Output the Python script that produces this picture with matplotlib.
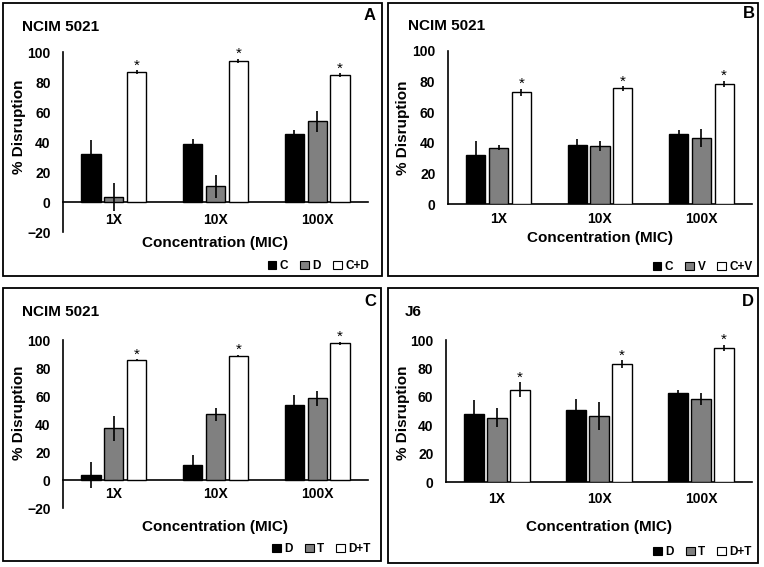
import numpy as np
import matplotlib.pyplot as plt
from matplotlib.patches import Patch, Rectangle

plt.rcParams['font.family'] = ['Liberation Sans', 'DejaVu Sans']
plt.rcParams['font.weight'] = 'bold'

W, H = 764, 567

conc = ['1X', '10X', '100X']

# Panel A: C, D, C+D (NCIM 5021)
a_names = ['C', 'D', 'C+D']
a_vals = [[31.8, 38.4, 45.6], [3.5, 10.4, 53.7], [86.4, 94.0, 84.7]]
a_errs = [[9.3, 3.8, 2.7], [9.2, 7.4, 6.7], [1.3, 1.5, 1.3]]

# Panel B: C, V, C+V (NCIM 5021)
b_names = ['C', 'V', 'C+V']
b_vals = [[31.8, 38.3, 45.7], [36.8, 37.9, 42.9], [73.0, 75.6, 78.4]]
b_errs = [[9.3, 4.0, 2.7], [1.5, 3.5, 5.9], [2.2, 1.5, 2.2]]

# Panel C: D, T, D+T (NCIM 5021)
c_names = ['D', 'T', 'D+T']
c_vals = [[3.5, 10.4, 53.7], [36.9, 46.9, 58.3], [85.7, 88.6, 97.6]]
c_errs = [[9.2, 7.4, 6.7], [8.8, 4.8, 5.3], [0.7, 0.9, 1.2]]

# Panel D: D, T, D+T (J6)
d_names = ['D', 'T', 'D+T']
d_vals = [[47.9, 50.5, 62.4], [45.3, 46.5, 58.5], [65.0, 83.1, 94.4]]
d_errs = [[9.8, 8.0, 2.2], [6.6, 9.8, 4.4], [5.2, 2.8, 2.1]]

colors = ['black', '#808080', 'white']


def px(x0, y0, x1, y1):
    # pixel box (from top-left) -> figure fraction [left, bottom, w, h]
    return [x0 / W, 1 - y1 / H, (x1 - x0) / W, (y1 - y0) / H]


fig = plt.figure(figsize=(W / 100, H / 100), dpi=100)


def panel(box, frame, names, vals, errs, ylim, strain, letter,
          tickpad, xlab_y, ylab_x, ylab_y, strain_xy, letter_xy, leg_xy):
    # outer frame
    fx0, fy0, fx1, fy1 = frame
    fig.patches.append(Rectangle((fx0 / W, 1 - fy1 / H), (fx1 - fx0) / W, (fy1 - fy0) / H,
                                 transform=fig.transFigure, fill=False,
                                 edgecolor='black', linewidth=1.3))
    ax = fig.add_axes(px(*box))
    x = np.arange(len(conc))
    bw = 0.19
    step = 0.225
    for i in range(3):
        xs = x + (i - 1) * step
        ax.bar(xs, vals[i], bw, color=colors[i], edgecolor='black', linewidth=1.0,
               yerr=errs[i], error_kw=dict(ecolor='black', elinewidth=1.2, capsize=0),
               zorder=3)
    # significance marks over the combination bars
    for j in range(3):
        ax.annotate('*', (x[j] + step, vals[2][j] + errs[2][j]), xytext=(0, 0.5),
                    textcoords='offset points', ha='center', va='baseline',
                    fontsize=11, fontweight='normal')
    ax.set_xlim(-0.5, 2.5)
    ax.set_ylim(*ylim)
    ax.set_yticks(np.arange(ylim[0], ylim[1] + 1, 20))
    ax.set_xticks(x)
    ax.set_xticklabels(conc)
    ax.spines['top'].set_visible(False)
    ax.spines['right'].set_visible(False)
    ax.spines['bottom'].set_position(('data', 0))
    ax.spines['left'].set_linewidth(1.2)
    ax.spines['bottom'].set_linewidth(1.2)
    ax.tick_params(axis='y', length=0, pad=9, labelsize=10)
    ax.tick_params(axis='x', length=0, pad=tickpad, labelsize=10)
    ax.patch.set_alpha(0)

    bx0, by0, bx1, by1 = box
    fig.text((bx0 + bx1) / 2 / W, 1 - xlab_y / H, 'Concentration (MIC)',
             ha='center', va='center', fontsize=11)
    fig.text(ylab_x / W, 1 - ylab_y / H, '% Disruption', rotation=90,
             ha='center', va='center', fontsize=11)
    fig.text(strain_xy[0] / W, 1 - strain_xy[1] / H, strain,
             ha='left', va='center', fontsize=11)
    fig.text(letter_xy[0] / W, 1 - letter_xy[1] / H, letter,
             ha='center', va='center', fontsize=12)
    handles = [Patch(facecolor=c, edgecolor='black', linewidth=0.8) for c in colors]
    ax.legend(handles, names, loc='center right', ncol=3, frameon=False,
              bbox_to_anchor=(leg_xy[0] / W, 1 - leg_xy[1] / H),
              bbox_transform=fig.transFigure, fontsize=8.5,
              handlelength=0.75, handleheight=0.75, handletextpad=0.3,
              columnspacing=1.0, borderpad=0, borderaxespad=0)
    return ax


panel((63, 52, 368, 232), (3, 3, 382, 276), a_names, a_vals, a_errs, (-20, 100),
      'NCIM 5021', 'A', 8, 243, 19, 127, (22, 27), (370, 16), (369, 266))
panel((448, 51, 752, 204), (388, 3, 758, 276), b_names, b_vals, b_errs, (0, 100),
      'NCIM 5021', 'B', 6, 238, 403, 128, (408, 26), (749, 14), (753, 267))
panel((63, 340, 368, 508), (3, 288, 381, 561), c_names, c_vals, c_errs, (-20, 100),
      'NCIM 5021', 'C', 5, 527, 19, 413, (22, 312), (370, 302), (371, 549))
panel((446, 340, 752, 482), (388, 288, 758, 563), d_names, d_vals, d_errs, (0, 100),
      'J6', 'D', 7, 527, 403, 413, (405, 312), (748, 302), (752, 552))

plt.savefig('out.png', dpi=100)
